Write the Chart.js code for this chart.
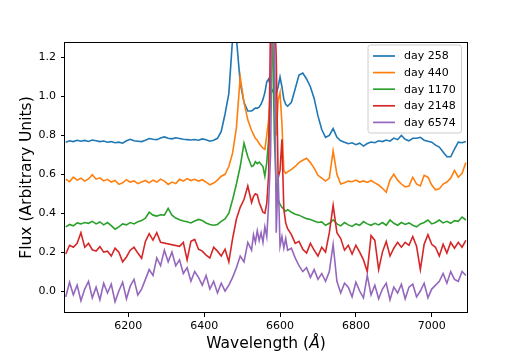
<!DOCTYPE html>
<html>
<head>
<meta charset="utf-8">
<script src="https://cdn.jsdelivr.net/npm/chart.js@4"></script>
<style>
  body { margin: 0; background: #fff; }
  canvas { display: block; }
</style>
</head>
<body>
<canvas id="spectraChart" width="520" height="353"></canvas>
<script>
// wavelength grid (Angstrom), finer around H-alpha
var wavelength = [
    6035, 6045, 6055, 6065, 6075, 6085, 6095, 6105, 6115, 6125,
    6135, 6145, 6155, 6165, 6175, 6185, 6195, 6205, 6215, 6225,
    6235, 6245, 6255, 6265, 6275, 6285, 6295, 6305, 6315, 6325,
    6335, 6345, 6355, 6365, 6375, 6385, 6395, 6405, 6415, 6425,
    6435, 6445, 6455, 6465, 6475, 6485, 6495, 6505, 6515, 6525,
    6530, 6535, 6540, 6545, 6550, 6555, 6560, 6565, 6570, 6575,
    6580, 6585, 6590, 6595, 6600, 6605, 6610, 6615, 6620,
    6630, 6640, 6650, 6660, 6670, 6680, 6690, 6700, 6710, 6720,
    6730, 6740, 6750, 6760, 6770, 6780, 6790, 6800, 6810, 6820,
    6830, 6840, 6850, 6860, 6870, 6880, 6890, 6900, 6910, 6920,
    6930, 6940, 6950, 6960, 6970, 6980, 6990, 7000, 7010, 7020,
    7030, 7040, 7050, 7060, 7070, 7080, 7090
];

var fluxDay258 = [
    0.765, 0.772, 0.768, 0.775, 0.770, 0.774, 0.769, 0.776, 0.772, 0.768,
    0.771, 0.765, 0.768, 0.762, 0.765, 0.760, 0.772, 0.780, 0.772, 0.770,
    0.768, 0.775, 0.784, 0.780, 0.778, 0.786, 0.792, 0.785, 0.782, 0.788,
    0.784, 0.780, 0.778, 0.776, 0.779, 0.775, 0.782, 0.778, 0.770, 0.775,
    0.785, 0.820, 0.910, 1.015, 1.300, 1.300, 1.070, 0.970, 0.925, 0.925,
    0.933, 0.940, 0.940, 0.945, 0.960, 0.985, 1.020, 1.075, 1.090, 1.050,
    1.030, 1.010, 1.015, 1.050, 1.100, 1.050, 0.985, 0.960, 0.950,
    0.970, 1.040, 1.110, 1.120, 1.090, 1.050, 0.990, 0.900, 0.830, 0.790,
    0.800, 0.835, 0.790, 0.772, 0.765, 0.757, 0.762, 0.752, 0.760, 0.745,
    0.758, 0.766, 0.762, 0.772, 0.768, 0.776, 0.770, 0.786, 0.778, 0.800,
    0.780, 0.772, 0.785, 0.785, 0.790, 0.775, 0.770, 0.765, 0.750, 0.740,
    0.715, 0.690, 0.690, 0.730, 0.765, 0.762, 0.768
];

var fluxDay440 = [
    0.575, 0.562, 0.585, 0.570, 0.580, 0.565, 0.576, 0.598, 0.575, 0.582,
    0.566, 0.574, 0.560, 0.568, 0.548, 0.556, 0.572, 0.560, 0.566, 0.552,
    0.560, 0.568, 0.556, 0.570, 0.560, 0.575, 0.565, 0.548, 0.560, 0.552,
    0.574, 0.565, 0.578, 0.568, 0.574, 0.565, 0.572, 0.560, 0.546, 0.555,
    0.570, 0.590, 0.600, 0.640, 0.710, 0.840, 1.100, 0.970, 0.880, 0.825,
    0.805, 0.785, 0.775, 0.758, 0.745, 0.735, 0.728, 0.800, 0.880, 1.050,
    1.350, 1.100, 0.800, 0.980, 1.020, 0.860, 0.620, 0.605, 0.612,
    0.625, 0.640, 0.660, 0.672, 0.682, 0.660, 0.632, 0.595, 0.580, 0.565,
    0.580, 0.720, 0.600, 0.550, 0.557, 0.565, 0.562, 0.570, 0.560, 0.566,
    0.558, 0.568, 0.556, 0.545, 0.528, 0.508, 0.572, 0.600, 0.570, 0.550,
    0.535, 0.540, 0.585, 0.550, 0.540, 0.595, 0.585, 0.545, 0.520, 0.525,
    0.550, 0.560, 0.580, 0.620, 0.585, 0.605, 0.660
];

var fluxDay1170 = [
    0.330, 0.342, 0.335, 0.350, 0.345, 0.352, 0.348, 0.358, 0.345, 0.355,
    0.340, 0.352, 0.336, 0.318, 0.330, 0.345, 0.340, 0.352, 0.345, 0.356,
    0.362, 0.375, 0.405, 0.390, 0.385, 0.392, 0.390, 0.425, 0.390, 0.375,
    0.366, 0.360, 0.356, 0.350, 0.360, 0.368, 0.362, 0.350, 0.342, 0.338,
    0.342, 0.358, 0.370, 0.400, 0.470, 0.550, 0.640, 0.760, 0.690, 0.640,
    0.645, 0.665, 0.655, 0.663, 0.652, 0.640, 0.590, 0.660, 0.780, 1.000,
    1.350, 0.800, 0.530, 0.470, 0.445, 0.430, 0.420, 0.410, 0.418,
    0.405, 0.395, 0.390, 0.380, 0.372, 0.368, 0.360, 0.352, 0.355, 0.338,
    0.348, 0.366, 0.345, 0.335, 0.352, 0.340, 0.332, 0.345, 0.338, 0.357,
    0.345, 0.338, 0.348, 0.340, 0.352, 0.338, 0.365, 0.348, 0.338, 0.352,
    0.342, 0.350, 0.338, 0.330, 0.345, 0.352, 0.365, 0.345, 0.352, 0.365,
    0.350, 0.358, 0.348, 0.362, 0.358, 0.380, 0.365
];

// null = no data (matplotlib joins across the gap with a straight line)
var fluxDay2148 = [
    0.190, 0.235, 0.225, 0.245, 0.300, 0.225, 0.245, 0.212, 0.205, 0.228,
    0.200, 0.205, 0.180, 0.220, 0.200, 0.150, 0.175, 0.210, 0.225, 0.195,
    0.168, 0.255, 0.295, 0.262, 0.300, 0.250, null, null, null, null,
    0.230, 0.250, 0.160, 0.255, 0.265, 0.215, 0.205, 0.185, 0.170, 0.225,
    0.205, 0.180, 0.215, 0.150, 0.270, 0.370, 0.430, 0.470, 0.540, 0.455,
    0.485, 0.500, 0.495, 0.455, 0.430, 0.405, 0.400, 0.450, 0.600, 1.400,
    1.500, 1.450, 1.200, 0.580, 0.620, 0.780, 0.420, 0.350, 0.320,
    0.290, 0.245, 0.255, 0.215, 0.195, 0.245, 0.210, 0.180, 0.225, 0.200,
    0.300, 0.440, 0.300, 0.270, 0.210, 0.235, 0.190, 0.235, 0.200, 0.160,
    0.100, 0.285, 0.260, 0.110, 0.200, 0.255, 0.180, 0.220, 0.250, 0.225,
    0.250, 0.235, 0.280, 0.230, 0.110, 0.240, 0.290, 0.240, 0.225, 0.180,
    0.240, 0.195, 0.250, 0.220, 0.250, 0.225, 0.260
];

var fluxDay6574 = [
    -0.030, 0.045, -0.020, 0.030, -0.050, 0.010, 0.050, -0.035, 0.020, -0.045,
    0.040, -0.010, 0.035, -0.055, 0.000, 0.045, -0.040, 0.025, 0.060, -0.020,
    0.010, 0.060, 0.110, 0.080, 0.170, 0.130, 0.210, 0.150, 0.200, 0.130,
    0.160, 0.090, 0.120, 0.050, 0.100, 0.070, 0.030, 0.080, 0.010, 0.050,
    -0.010, 0.040, 0.000, 0.030, 0.070, 0.120, 0.180, 0.150, 0.250, 0.210,
    0.290, 0.250, 0.310, 0.260, 0.300, 0.250, 0.330, 0.280, 0.450, 0.700,
    1.450, 1.400, 0.300, 0.600, 0.230, 0.280, 0.220, 0.270, 0.210,
    0.220, 0.170, 0.130, 0.100, 0.120, 0.070, 0.110, 0.060, 0.090, 0.050,
    0.100, 0.240, 0.050, -0.010, 0.040, 0.020, -0.030, 0.045, 0.000, -0.035,
    0.080, -0.020, 0.030, -0.040, 0.010, 0.040, -0.045, 0.020, -0.010, 0.035,
    -0.040, 0.020, 0.035, -0.030, 0.000, 0.040, -0.035, 0.010, null, 0.050,
    0.090, 0.040, 0.100, 0.060, 0.050, 0.100, 0.080
];

var seriesLabels = ['day 258', 'day 440', 'day 1170', 'day 2148', 'day 6574'];
var seriesColors = ['#1f77b4', '#ff7f0e', '#2ca02c', '#d62728', '#9467bd'];
var xTicks = [6200, 6400, 6600, 6800, 7000];
var yTicks = [0.0, 0.2, 0.4, 0.6, 0.8, 1.0, 1.2];

var fontFamily = "'DejaVu Sans', 'Liberation Sans', sans-serif";
Chart.defaults.font.family = fontFamily;

function toPoints(flux) {
    return wavelength.map(function (w, i) {
        return { x: w, y: flux[i] };
    });
}

// frame, axis titles and a matplotlib style legend inside the axes
var decorPlugin = {
    id: 'decor',
    afterDraw: function (chart) {
        var ctx = chart.ctx;
        var area = chart.chartArea;
        ctx.save();

        ctx.strokeStyle = '#000';
        ctx.lineWidth = 1;
        ctx.strokeRect(Math.round(area.left) - 0.5, Math.round(area.top) + 0.5,
            Math.round(area.right - area.left) + 1, Math.round(area.bottom - area.top) - 1);

        // y title
        ctx.fillStyle = '#000';
        ctx.font = '15.5px ' + fontFamily;
        ctx.textAlign = 'center';
        ctx.textBaseline = 'middle';
        ctx.save();
        ctx.translate(27, (area.top + area.bottom) / 2);
        ctx.rotate(-Math.PI / 2);
        ctx.fillText('Flux (Arbitrary Units)', 0, 0);
        ctx.restore();

        // x title with italic angstrom
        var partA = 'Wavelength (';
        var partB = 'Å';
        var partC = ')';
        ctx.font = '15.5px ' + fontFamily;
        var wA = ctx.measureText(partA).width;
        var wC = ctx.measureText(partC).width;
        ctx.font = 'italic 15.5px ' + fontFamily;
        var wB = ctx.measureText(partB).width;
        var cx = (area.left + area.right) / 2;
        var start = cx - (wA + wB + wC) / 2;
        ctx.textAlign = 'left';
        ctx.textBaseline = 'alphabetic';
        var base = 348;
        ctx.font = '15.5px ' + fontFamily;
        ctx.fillText(partA, start, base);
        ctx.font = 'italic 15.5px ' + fontFamily;
        ctx.fillText(partB, start + wA, base);
        ctx.font = '15.5px ' + fontFamily;
        ctx.fillText(partC, start + wA + wB, base);

        // legend
        var boxL = 368, boxT = 45, boxR = 461.5, boxB = 133, r = 2.5;
        ctx.beginPath();
        ctx.moveTo(boxL + r, boxT);
        ctx.lineTo(boxR - r, boxT);
        ctx.quadraticCurveTo(boxR, boxT, boxR, boxT + r);
        ctx.lineTo(boxR, boxB - r);
        ctx.quadraticCurveTo(boxR, boxB, boxR - r, boxB);
        ctx.lineTo(boxL + r, boxB);
        ctx.quadraticCurveTo(boxL, boxB, boxL, boxB - r);
        ctx.lineTo(boxL, boxT + r);
        ctx.quadraticCurveTo(boxL, boxT, boxL + r, boxT);
        ctx.closePath();
        ctx.fillStyle = 'rgba(255,255,255,0.8)';
        ctx.fill();
        ctx.strokeStyle = '#cccccc';
        ctx.lineWidth = 1;
        ctx.stroke();

        ctx.font = '11px ' + fontFamily;
        ctx.textBaseline = 'middle';
        ctx.textAlign = 'left';
        for (var i = 0; i < seriesLabels.length; i++) {
            var rowY = 56 + i * 16.6;
            ctx.strokeStyle = seriesColors[i];
            ctx.lineWidth = 1.7;
            ctx.beginPath();
            ctx.moveTo(373, rowY);
            ctx.lineTo(395, rowY);
            ctx.stroke();
            ctx.fillStyle = '#000';
            ctx.fillText(seriesLabels[i], 404, rowY + 0.5);
        }
        ctx.restore();
    }
};

var allFlux = [fluxDay258, fluxDay440, fluxDay1170, fluxDay2148, fluxDay6574];
var datasets = allFlux.map(function (flux, i) {
    return {
        label: seriesLabels[i],
        data: toPoints(flux),
        borderColor: seriesColors[i],
        backgroundColor: seriesColors[i],
        borderWidth: 1.6,
        pointRadius: 0,
        tension: 0,
        fill: false,
        spanGaps: true,
        order: 5 - i   // later series drawn on top, as in matplotlib
    };
});

var ctx = document.getElementById('spectraChart').getContext('2d');
var spectraChart = new Chart(ctx, {
    type: 'line',
    data: { datasets: datasets },
    options: {
        responsive: false,
        animation: false,
        layout: { padding: { left: 0, top: 42, right: 53, bottom: 0 } },
        plugins: {
            legend: { display: false },
            tooltip: { enabled: false }
        },
        scales: {
            x: {
                type: 'linear',
                min: 6033,
                max: 7093,
                afterBuildTicks: function (scale) {
                    scale.ticks = xTicks.map(function (v) { return { value: v }; });
                },
                afterFit: function (scale) { scale.height = 40; },
                ticks: {
                    color: '#000',
                    font: { size: 11 },
                    padding: 3,
                    maxRotation: 0,
                    autoSkip: false,
                    callback: function (v) { return String(v); }
                },
                grid: { drawOnChartArea: false, tickLength: 4, color: '#000' },
                border: { display: false }
            },
            y: {
                type: 'linear',
                min: -0.113,
                max: 1.28,
                afterBuildTicks: function (scale) {
                    scale.ticks = yTicks.map(function (v) { return { value: v }; });
                },
                afterFit: function (scale) { scale.width = 65; },
                ticks: {
                    color: '#000',
                    font: { size: 11 },
                    padding: 5,
                    callback: function (v) { return v.toFixed(1); }
                },
                grid: { drawOnChartArea: false, tickLength: 4, color: '#000' },
                border: { display: false }
            }
        }
    },
    plugins: [decorPlugin]
});
</script>
</body>
</html>
